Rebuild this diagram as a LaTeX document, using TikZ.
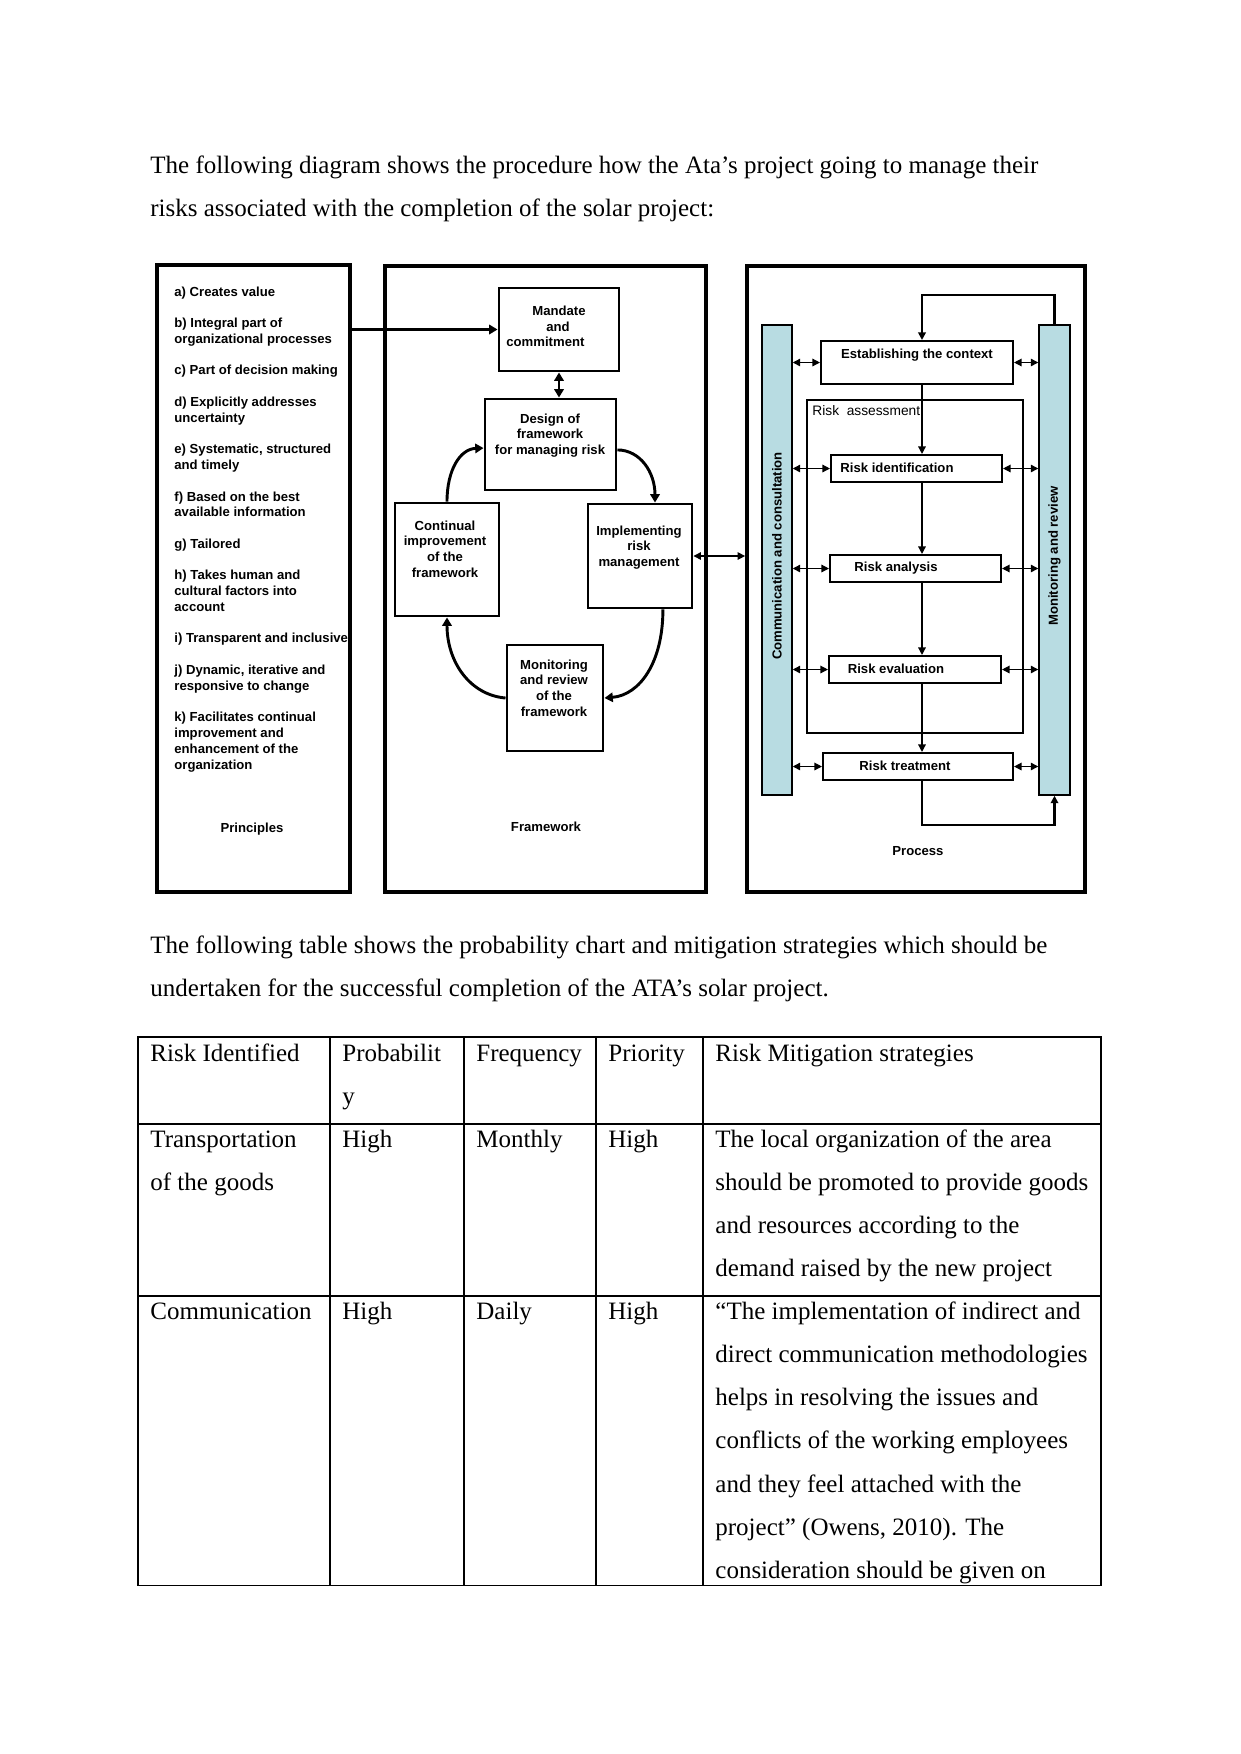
\documentclass[tikz,border=0pt]{standalone}
\usepackage{fontspec}
\setmainfont{Liberation Serif}
\newfontfamily\arialf{Liberation Sans}
\usetikzlibrary{arrows.meta}
\definecolor{barblue}{RGB}{184,220,226}
\begin{document}
\begin{tikzpicture}[x=0.48pt,y=-0.48pt,
  body/.style={font=\fontsize{12}{14}\selectfont, inner sep=0pt, anchor=base west},
  dtxt/.style={font=\arialf\bfseries\fontsize{6.3}{7.55}\selectfont, inner sep=0pt},
  ptxt/.style={dtxt, anchor=base west},
  ctxt/.style={dtxt, align=center},
  sz/.style 2 args={minimum width=#1*0.48pt, minimum height=#2*0.48pt},
  outerbox/.style={draw, line width=1.8pt, inner sep=0pt},
  fbox/.style={draw, line width=1.4pt, inner sep=0pt},
  pbox/.style={draw, line width=1pt, inner sep=0pt},
  barbox/.style={draw, line width=0.7pt, fill=barblue, inner sep=0pt},
  farr/.style={line width=1.4pt, -{Triangle[length=4pt,width=4.5pt]}},
  fdarr/.style={line width=1.4pt, {Triangle[length=4pt,width=4.5pt]}-{Triangle[length=4pt,width=4.5pt]}},
  parr/.style={line width=0.65pt, -{Triangle[length=3.6pt,width=3.6pt]}},
  pdarr/.style={line width=0.65pt, {Triangle[length=3.6pt,width=3.6pt]}-{Triangle[length=3.6pt,width=3.6pt]}},
  looparr/.style={line width=1pt, -{Triangle[length=3.6pt,width=3.6pt]}},
  tline/.style={line width=0.5pt},
]
\fill[white] (0,0) rectangle (1241,1754);
\useasboundingbox (0,0) rectangle (1241,1754);

% ---------- paragraph 1
\node[body] (para1a) at (150,173) {The following diagram shows the procedure how the Ata’s project going to manage their};
\node[body] (para1b) at (150,216) {risks associated with the completion of the solar project:};

% ---------- outer boxes
\node[outerbox, sz={193}{627}] (princ) at (253.5,578.5) {};
\node[outerbox, sz={321}{626}] (frame) at (545.5,579) {};
\node[outerbox, sz={338}{626}] (proc) at (916,579) {};

% ---------- principles
\node[ptxt] (pr1) at (174,296) {a) Creates value};
\node[ptxt] (pr2) at (174,327.5) {b) Integral part of};
\node[ptxt] (pr3) at (174,343.3) {organizational processes};
\node[ptxt] (pr4) at (174,374.9) {c) Part of decision making};
\node[ptxt] (pr5) at (174,406.4) {d) Explicitly addresses};
\node[ptxt] (pr6) at (174,422.2) {uncertainty};
\node[ptxt] (pr7) at (174,453.7) {e) Systematic, structured};
\node[ptxt] (pr8) at (174,469.5) {and timely};
\node[ptxt] (pr9) at (174,501.0) {f) Based on the best};
\node[ptxt] (pr10) at (174,516.8) {available information};
\node[ptxt] (pr11) at (174,548.3) {g) Tailored};
\node[ptxt] (pr12) at (174,579.9) {h) Takes human and};
\node[ptxt] (pr13) at (174,595.6) {cultural factors into};
\node[ptxt] (pr14) at (174,611.4) {account};
\node[ptxt] (pr15) at (174,642.9) {i) Transparent and inclusive};
\node[ptxt] (pr16) at (174,674.5) {j) Dynamic, iterative and};
\node[ptxt] (pr17) at (174,690.3) {responsive to change};
\node[ptxt] (pr18) at (174,721.8) {k) Facilitates continual};
\node[ptxt] (pr19) at (174,737.6) {improvement and};
\node[ptxt] (pr20) at (174,753.3) {enhancement of the};
\node[ptxt] (pr21) at (174,769.1) {organization};
\node[dtxt] (princT) at (252,829) {Principles};

% ---------- framework
\node[fbox, sz={120}{83}] (mandate) at (559,329.5) {};
\node[ptxt] (mandateT1) at (532,315.5) {Mandate};
\node[ptxt] (mandateT2) at (546,331.2) {and};
\node[ptxt] (mandateT3) at (506,346.9) {commitment};
\node[fbox, sz={131}{91}] (design) at (550.5,444.5) {};
\node[ctxt] (designT) at (550,435.5) {Design of\\framework\\for managing risk};
\node[fbox, sz={104}{113}] (cont) at (447,559.5) {};
\node[ctxt] (contT) at (445,549) {Continual\\improvement\\of the\\framework};
\node[fbox, sz={104}{104}] (impl) at (640,556) {};
\node[ctxt] (implT) at (639,547.5) {Implementing\\risk\\management};
\node[fbox, sz={96}{106}] (monf) at (555,698) {};
\node[ctxt] (monfT) at (554,688) {Monitoring\\and review\\of the\\framework};
\node[dtxt] (frameT) at (546,827) {Framework};

\draw[farr] (princ.east |- mandate.west) -- (mandate.west);
\draw[fdarr] (mandate.south) -- (mandate.south |- design.north);
\draw[farr] (cont.north) .. controls (447,470) and (460,449) .. ([yshift=-1.7pt]design.west);
\draw[farr] ([yshift=-2.6pt]design.east) .. controls (640,450) and (655,472) .. ([xshift=7.2pt]impl.north);
\draw[farr] ([xshift=11pt]impl.south) .. controls (663,662) and (640,695) .. (monf.east);
\draw[farr] (monf.west) .. controls (470,695) and (447,662) .. (cont.south);
\draw[pdarr] (impl.east) -- (impl.east -| proc.west);

% ---------- process
\node[barbox, sz={30}{470}] (commbar) at (777,560) {};
\node[dtxt, rotate=90] (commT) at (777,556) {Communication and consultation};
\node[barbox, sz={31}{470}] (monbar) at (1054.5,560) {};
\node[dtxt, rotate=90] (monT) at (1054.5,556) {Monitoring and review};

\node[pbox, sz={192}{43}] (estab) at (917,362.5) {};
\node[dtxt] (estabT) at (917,355) {Establishing the context};
\node[pbox, sz={216}{333}] (rass) at (915,566.5) {};
\node[font=\arialf\fontsize{6.6}{8}\selectfont, inner sep=0pt, anchor=base west] (rassT) at (812,415) {Risk\ \ assessment};
\node[pbox, sz={171}{27}] (ident) at (916.5,468.5) {};
\node[dtxt] (identT) at (897,468) {Risk identification};
\node[pbox, sz={171}{27}] (anal) at (915.5,568.5) {};
\node[dtxt] (analT) at (896,568) {Risk analysis};
\node[pbox, sz={172}{27}] (eval) at (915,669.5) {};
\node[dtxt] (evalT) at (896,669) {Risk evaluation};
\node[pbox, sz={190}{27}] (treat) at (918,766.5) {};
\node[dtxt] (treatT) at (905,766) {Risk treatment};
\node[dtxt] (procT) at (918,851) {Process};

\coordinate (vx) at (922,0);
\coordinate (ltop) at (922,295);
\coordinate (lbot) at (922,825);
\draw[parr] (estab.south -| vx) -- (ident.north -| vx);
\draw[parr] (ident.south -| vx) -- (anal.north -| vx);
\draw[parr] (anal.south -| vx) -- (eval.north -| vx);
\draw[parr] (eval.south -| vx) -- (treat.north -| vx);
\draw[looparr] (monbar.north) |- (ltop) -- (estab.north -| ltop);
\draw[looparr] (treat.south -| lbot) -- (lbot) -| (monbar.south);

\foreach \b in {estab,ident,anal,eval,treat}{
  \draw[pdarr] (commbar.east |- \b.west) -- (\b.west);
  \draw[pdarr] (\b.east) -- (\b.east -| monbar.west);
}

% ---------- paragraph 2
\node[body] (para2a) at (150,953) {The following table shows the probability chart and mitigation strategies which should be};
\node[body] (para2b) at (150,996) {undertaken for the successful completion of the ATA’s solar project.};

% ---------- table
\draw[tline] (138,1037) rectangle (1101,1585);
\draw[tline] (138,1124) -- (1101,1124);
\draw[tline] (138,1296) -- (1101,1296);
\foreach \cx in {330,464,596,703}{\draw[tline] (\cx,1037) -- (\cx,1585);}

\node[body] (h1) at (150,1061) {Risk Identified};
\node[body] (h2) at (342,1061) {Probabilit};
\node[body] (h2b) at (342,1104.1) {y};
\node[body] (h3) at (476,1061) {Frequency};
\node[body] (h4) at (608,1061) {Priority};
\node[body] (h5) at (715,1061) {Risk Mitigation strategies};

\node[body] (r1a) at (150,1147.2) {Transportation};
\node[body] (r1a2) at (150,1190.3) {of the goods};
\node[body] (r1b) at (342,1147.2) {High};
\node[body] (r1c) at (476,1147.2) {Monthly};
\node[body] (r1d) at (608,1147.2) {High};
\node[body] (r1e1) at (715,1147.2) {The local organization of the area};
\node[body] (r1e2) at (715,1190.3) {should be promoted to provide goods};
\node[body] (r1e3) at (715,1233.4) {and resources according to the};
\node[body] (r1e4) at (715,1276.5) {demand raised by the new project};

\node[body] (r2a) at (150,1319.6) {Communication};
\node[body] (r2b) at (342,1319.6) {High};
\node[body] (r2c) at (476,1319.6) {Daily};
\node[body] (r2d) at (608,1319.6) {High};
\node[body] (r2e1) at (715,1319.6) {“The implementation of indirect and};
\node[body] (r2e2) at (715,1362.7) {direct communication methodologies};
\node[body] (r2e3) at (715,1405.8) {helps in resolving the issues and};
\node[body] (r2e4) at (715,1448.9) {conflicts of the working employees};
\node[body] (r2e5) at (715,1492) {and they feel attached with the};
\node[body] (r2e6) at (715,1535.1) {project” (Owens, 2010). The};
\node[body] (r2e7) at (715,1578.2) {consideration should be given on};
\end{tikzpicture}
\end{document}
